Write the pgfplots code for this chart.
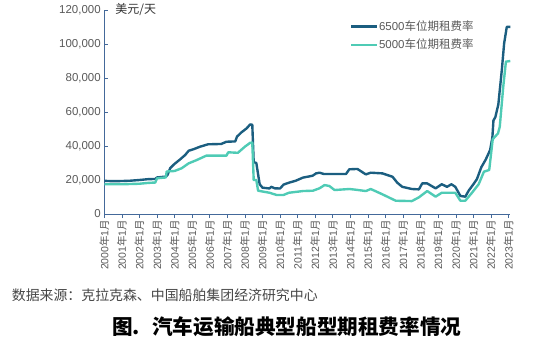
\documentclass[border=0pt]{standalone}
\usepackage{fontspec}
\setmainfont{Liberation Sans}
\newfontfamily\cjk{Noto Sans CJK SC}
\usepackage{pgfplots}
\pgfplotsset{compat=1.18}
\definecolor{darkser}{HTML}{1B5E80}
\definecolor{lightser}{HTML}{4FCBB5}
\definecolor{axcol}{HTML}{44699A}
\definecolor{txtgray}{HTML}{595959}
\newcommand\ym[1]{#1{\cjk 年}1{\cjk 月}}
\begin{document}
\begin{tikzpicture}
\path[use as bounding box] (-104.3bp,-147bp) rectangle (451.7bp,214bp);
\begin{axis}[
  name=ax,
  at={(0,0)}, anchor=south west,
  scale only axis,
  width=406bp, height=204bp,
  xmin=2000, xmax=2023.1,
  ymin=0, ymax=120000,
  axis lines=left,
  axis line style={-, axcol, line width=0.8pt},
  xtick={2000,2001,...,2023},
  xticklabels={\ym{2000},\ym{2001},\ym{2002},\ym{2003},\ym{2004},\ym{2005},\ym{2006},\ym{2007},\ym{2008},\ym{2009},\ym{2010},\ym{2011},\ym{2012},\ym{2013},\ym{2014},\ym{2015},\ym{2016},\ym{2017},\ym{2018},\ym{2019},\ym{2020},\ym{2021},\ym{2022},\ym{2023}},
  x tick label style={rotate=90, anchor=east, font=\fontsize{10.5bp}{12bp}\selectfont, text=txtgray, inner sep=1.5bp},
  ytick={0,20000,...,120000},
  scaled y ticks=false,
  yticklabel={\pgfmathprintnumber[fixed, precision=0, 1000 sep={,}, assume math mode=true]{\tick}},
  y tick label style={font=\fontsize{11.5bp}{13bp}\selectfont, text=txtgray},
  tick style={axcol, line width=0.6pt},
  major tick length=4bp,
  xtick align=outside,
  ytick align=inside,
  clip=false,
  legend style={at={(rel axis cs:0.605,0.955)}, anchor=north west, draw=none, fill=none,
    font=\fontsize{11.5bp}{13bp}\selectfont, text=txtgray, inner sep=0pt, row sep=4bp,
    nodes={inner xsep=0.5bp, inner ysep=1.5bp}},
  legend cell align=left,
  legend image code/.code={\draw[#1] (0bp,0bp) -- (26bp,0bp);},
]
\addplot[darkser, line width=2.4pt, line join=round] coordinates {
(2000.0,19500) (2000.5,19300) (2001.0,19400) (2001.5,19600) (2002.0,20000) (2002.5,20500) (2002.9,20600)
(2003.0,21500) (2003.5,22000) (2003.6,23000) (2003.75,27000) (2004.0,29500) (2004.3,32000) (2004.6,34700)
(2004.8,37200) (2005.1,38200) (2005.45,39600) (2005.9,41000) (2006.65,41200) (2006.95,42500) (2007.45,42700)
(2007.55,45500) (2007.8,48000) (2008.1,50400) (2008.3,52700) (2008.42,52500) (2008.5,30500) (2008.65,30000)
(2008.84,17500) (2009.0,15500) (2009.4,15000) (2009.5,16000) (2009.7,15100) (2010.0,15000) (2010.2,17300)
(2010.5,18400) (2010.9,19600) (2011.3,21400) (2011.85,22500) (2012.05,23900) (2012.25,24300) (2012.5,23500)
(2013.75,23500) (2013.94,26300) (2014.4,26500) (2014.88,23300) (2015.16,24300) (2015.82,23900) (2016.4,21900)
(2016.67,18400) (2016.95,16000) (2017.5,14700) (2017.9,14500) (2018.09,18000) (2018.37,18000) (2018.85,15100)
(2019.2,17500) (2019.5,16000) (2019.75,17500) (2019.97,16000) (2020.26,10600) (2020.54,10200) (2020.73,13700)
(2021.0,17500) (2021.2,20500) (2021.45,27500) (2021.7,32000) (2021.95,37600) (2022.08,45000) (2022.14,55000)
(2022.25,57000) (2022.42,64500) (2022.62,85000) (2022.75,100400) (2022.9,110100) (2023.1,110100)
};
\addlegendentry{6500{\cjk 车位期租费率}}
\addplot[lightser, line width=2.4pt, line join=round] coordinates {
(2000.0,17500) (2001.0,17500) (2002.0,17800) (2002.5,18300) (2002.9,18500) (2003.0,21000) (2003.5,21500)
(2003.55,25000) (2004.0,25300) (2004.4,26900) (2004.8,29800) (2005.25,31700) (2005.8,34300) (2006.95,34300)
(2007.05,36300) (2007.6,36000) (2008.0,39600) (2008.3,41900) (2008.42,42000) (2008.5,20000) (2008.65,20000)
(2008.75,13700) (2009.4,12500) (2009.8,11200) (2010.2,11200) (2010.5,12500) (2011.3,13500) (2011.87,13700)
(2012.24,15100) (2012.53,17000) (2012.8,16500) (2013.1,14100) (2013.94,14700) (2014.3,14300) (2014.88,13500)
(2015.16,14700) (2015.82,11600) (2016.58,7800) (2017.5,7600) (2017.9,9800) (2018.37,13500) (2018.85,10200)
(2019.2,12500) (2019.97,12500) (2020.26,7800) (2020.54,7800) (2020.92,12500) (2021.3,17500) (2021.6,24900)
(2021.9,25900) (2022.1,44000) (2022.4,47400) (2022.5,51300) (2022.7,75000) (2022.85,89600) (2023.1,90000)
};
\addlegendentry{5000{\cjk 车位期租费率}}
\node[anchor=west, font=\fontsize{12bp}{14bp}\selectfont\cjk, text=black!80, inner sep=0pt] at (rel axis cs:0,1) [xshift=11bp] {美元/天};
\end{axis}
\node[anchor=west, inner sep=0pt, font=\fontsize{13.9bp}{16bp}\selectfont\cjk, text=black!72] at (-92.6bp,-81bp) {数据来源：克拉克森、中国船舶集团经济研究中心};
\node[anchor=center, inner sep=0pt, font=\fontsize{20.6bp}{23bp}\selectfont\cjk\bfseries, text=black] at (182.4bp,-112.7bp) {图.\hspace{0.6em}汽车运输船典型船型期租费率情况};
\end{tikzpicture}
\end{document}
